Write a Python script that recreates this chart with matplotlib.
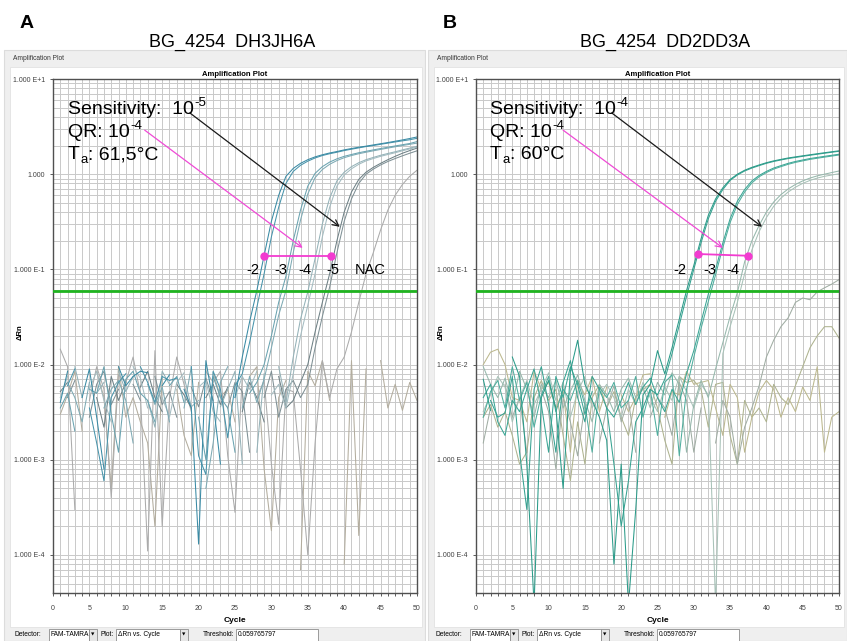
import numpy as np
import matplotlib
matplotlib.use("Agg")
import matplotlib.pyplot as plt
from matplotlib.patches import Rectangle
from matplotlib.ticker import FixedLocator, FixedFormatter, LogLocator, MultipleLocator, NullFormatter

plt.rcParams['font.family'] = ['Liberation Sans', 'DejaVu Sans']

W, H = 847, 641
cycles = np.arange(1, 51)
threshold = 0.059765797
y_ticks = [10, 1, 0.1, 0.01, 0.001, 0.0001]
y_tick_labels = ["1.000 E+1", "1.000", "1.000 E-1", "1.000 E-2", "1.000 E-3", "1.000 E-4"]
x_ticks = [0, 5, 10, 15, 20, 25, 30, 35, 40, 45, 50]

# ---- panel A : BG_4254 DH3JH6A (delta Rn per cycle 1..50, None = negative) ----
a_m2a = [0.004, 0.0085, None, 0.0045, 0.009, 0.0028, 0.0008, None, 0.0095, 0.006,
         0.0075, 0.0085, 0.0082, None, 0.006, 0.0078, None, 0.0055, 0.0035, 0.00013,
         0.011, 0.004, 0.0009, None, 0.0045, 0.012, 0.028, 0.06, 0.14, 0.32,
         0.6, 0.95, 1.15, 1.3, 1.42, 1.52, 1.6, 1.67, 1.73, 1.8,
         1.86, 1.92, 1.97, 2.03, 2.09, 2.15, 2.22, 2.29, 2.37, 2.46]
a_m2b = [None, 0.006, 0.009, None, 0.0035, 0.0015, 0.0006, 0.0045, 0.0065, 0.008,
         None, 0.0095, 0.0065, 0.004, 0.0075, 0.0068, 0.0072, None, 0.0095, 0.0011,
         0.0007, 0.0085, 0.0055, 0.0017, 0.006, 0.008, 0.017, 0.04, 0.09, 0.22,
         0.45, 0.8, 1.07, 1.24, 1.37, 1.48, 1.57, 1.64, 1.7, 1.77,
         1.83, 1.89, 1.95, 2.0, 2.06, 2.12, 2.18, 2.24, 2.3, 2.38]
a_m3a = [0.0035, 0.005, 0.002, None, 0.0055, 0.005, 0.0095, 0.003, 0.0012, 0.007,
         0.0085, 0.005, 0.0042, 0.0025, None, 0.006, 0.0075, 0.004, None, 0.0028,
         0.001, 0.0075, 0.0045, 0.0035, 0.0012, None, 0.005, 0.0065, 0.01, 0.02,
         0.045, 0.085, 0.2, 0.42, 0.75, 1.02, 1.2, 1.34, 1.45, 1.54,
         1.61, 1.68, 1.74, 1.8, 1.86, 1.92, 1.98, 2.04, 2.1, 2.2]
a_m3b = [None, 0.0065, 0.0045, 0.0025, 0.0065, None, 0.0035, 0.0055, 0.0068, 0.0042,
         0.0015, None, 0.0062, 0.0038, 0.0058, 0.0025, None, 0.0035, 0.0095, None,
         0.0005, 0.0015, 0.0065, 0.0095, None, 0.0035, 0.0075, 0.004, 0.007, 0.015,
         0.033, 0.06, 0.15, 0.33, 0.62, 0.92, 1.12, 1.27, 1.39, 1.49,
         1.57, 1.64, 1.7, 1.76, 1.82, 1.88, 1.94, 2.0, 2.06, 2.12]
a_m4a = [0.006, None, 0.0095, 0.0045, None, 0.005, 0.0065, None, 0.0085, 0.0052,
         0.0075, None, 0.0042, 0.0022, 0.0085, 0.0062, None, 0.0075, 0.0036, 0.0042,
         None, None, 0.0036, 0.0055, 0.0085, 0.0009, None, 0.0012, 0.008, None,
         0.0095, 0.004, 0.012, 0.03, 0.058, 0.13, 0.3, 0.56, 0.85, 1.05,
         1.2, 1.32, 1.42, 1.5, 1.58, 1.65, 1.72, 1.8, 1.88, 1.96]
a_m4b = [0.0045, 0.0075, None, None, 0.0055, 0.0085, 0.0042, 0.0025, None, None,
         0.0095, 0.0072, 0.0035, None, 0.0045, 0.0028, 0.0065, 0.0082, None, 0.0058,
         0.0068, 0.0032, 0.0025, None, 0.0045, 0.0075, 0.0055, 0.0085, None, 0.0048,
         0.0062, 0.0035, 0.008, 0.02, 0.042, 0.09, 0.22, 0.45, 0.75, 0.98,
         1.14, 1.27, 1.38, 1.46, 1.54, 1.61, 1.68, 1.76, 1.84, 1.92]
a_m5a = [0.0052, 0.0065, None, 0.0035, None, 0.0045, 0.0022, 0.0075, 0.0042, 0.0065,
         None, 0.0058, 0.0085, 0.0045, 0.0032, None, 0.0062, 0.0048, 0.0035, None,
         0.0045, 0.0062, 0.0038, 0.0058, None, 0.0032, 0.0065, 0.0045, 0.0025, None,
         0.0075, 0.0035, 0.0042, 0.0065, 0.01, 0.022, 0.045, 0.09, 0.2, 0.4,
         0.65, 0.88, 1.05, 1.18, 1.3, 1.42, 1.54, 1.66, 1.77, 1.88]
a_m5b = [None, 0.0045, 0.0068, None, 0.0028, 0.0062, 0.0085, 0.0038, 0.0055, None,
         0.0062, 0.0042, None, 0.0075, 0.0038, 0.0052, 0.0028, None, 0.0058, 0.0036,
         0.0072, 0.0042, None, 0.0035, 0.0065, 0.0052, 0.0012, None, 0.0045, 0.0085,
         0.0028, 0.0055, 0.0068, 0.0045, 0.0062, 0.015, 0.032, 0.065, 0.15, 0.32,
         0.55, 0.8, 1.0, 1.13, 1.25, 1.36, 1.46, 1.56, 1.66, 1.76]
a_nac = [0.0145, 0.0095, 0.0003, None, 0.0042, 0.0095, 0.0055, 0.0004, 0.0078, 0.0065,
         0.012, 0.005, 0.00011, 0.014, 0.0002, 0.0045, 0.012, 0.0062, 0.0032, None,
         0.0085, 0.0065, 0.0085, 0.0011, 0.00028, 0.0075, None, 0.0045, 0.0068, 0.0009,
         0.00021, 0.0055, 0.0052, 0.0008, 0.0001, 0.0015, 0.011, 0.0045, 0.009, 0.012,
         0.022, 0.045, 0.09, 0.15, 0.26, 0.42, 0.6, 0.78, 0.95, 1.1]
a_ntc = [0.003, 0.0048, 0.0085, 0.002, None, 0.0085, 0.0045, 0.0005, 0.0095, 0.0028,
         0.0045, 0.0025, 0.0015, 0.0002, 0.0072, None, 0.0055, 0.0018, 0.0011, 0.0065,
         None, 0.0082, 0.0046, 0.0055, 0.0025, None, 0.0075, 0.0095, 0.0008, 0.00018,
         0.0045, 0.0068, None, 0.00007, 0.0085, 0.006, 0.011, 0.0042, None, 0.00008,
         0.011, 0.00016, 0.009, None, 0.011, 0.0035, 0.0062, 0.0033, 0.0065, 0.0042]

# ---- panel B : BG_4254 DD2DD3A ----
b_m2a = [0.007, 0.0033, None, None, 0.012, 0.0075, 0.0009, 0.00003, 0.0045, 0.0068,
         0.0035, 0.0005, 0.0085, 0.018, 0.0062, 0.0042, 0.0028, 0.0016, 0.00008, 0.0009,
         0.00003, 0.0003, 0.0048, 0.0062, 0.014, 0.008, 0.015, 0.03, 0.06, 0.11,
         0.21, 0.37, 0.55, 0.72, 0.88, 1.0, 1.1, 1.18, 1.25, 1.32,
         1.38, 1.43, 1.48, 1.52, 1.56, 1.6, 1.64, 1.68, 1.72, 1.76]
b_m2b = [None, 0.0042, 0.0028, 0.0031, 0.0075, 0.0012, 0.0003, 0.0055, 0.0095, 0.0038,
         0.0012, 0.0065, 0.011, 0.0045, 0.0025, 0.0075, 0.0055, 0.0035, 0.0009, 0.0002,
         0.0006, 0.0025, 0.0035, 0.0055, 0.0048, 0.007, 0.013, 0.026, 0.052, 0.1,
         0.19, 0.34, 0.52, 0.69, 0.86, 0.98, 1.08, 1.16, 1.23, 1.3,
         1.36, 1.41, 1.46, 1.5, 1.54, 1.58, 1.62, 1.66, 1.7, 1.74]
b_m3a = [0.0045, 0.0062, 0.0025, 0.0018, 0.0042, 0.0032, 0.0055, 0.009, 0.0038, 0.0012,
         0.0075, 0.0045, 0.0095, 0.0062, 0.003, 0.0052, None, 0.0035, 0.0028, 0.0042,
         0.0065, 0.0038, 0.0058, 0.0072, 0.0045, 0.0032, 0.0055, 0.004, 0.008, 0.014,
         0.028, 0.055, 0.1, 0.19, 0.34, 0.52, 0.69, 0.85, 0.97, 1.07,
         1.16, 1.23, 1.3, 1.36, 1.41, 1.46, 1.5, 1.54, 1.58, 1.62]
b_m3b = [0.0028, 0.0052, 0.0068, 0.0035, 0.0095, 0.0042, 0.0065, 0.0022, 0.0048, 0.0075,
         0.0032, 0.0055, 0.0042, 0.0068, 0.0038, 0.0012, 0.0058, 0.0045, 0.0065, 0.0035,
         0.0042, 0.0075, 0.0028, 0.0055, 0.0018, 0.0065, 0.0078, 0.0011, 0.0055, 0.012,
         0.024, 0.046, 0.088, 0.17, 0.31, 0.48, 0.65, 0.81, 0.94, 1.04,
         1.13, 1.2, 1.27, 1.33, 1.38, 1.43, 1.47, 1.51, 1.55, 1.59]
b_m4a = [0.0095, 0.0062, 0.0045, 0.0072, 0.0038, 0.0085, 0.0055, 0.0028, 0.0062, 0.0045,
         0.0068, 0.0035, 0.0052, 0.0078, 0.0042, 0.0025, 0.0062, 0.0048, 0.0032, 0.0055,
         0.0072, 0.0045, 0.0058, 0.0035, 0.0065, 0.0048, 0.0082, 0.0062, 0.0012, 0.0038,
         0.0068, 0.0045, 0.009, 0.017, 0.032, 0.057, 0.12, 0.2, 0.29, 0.4,
         0.51, 0.61, 0.7, 0.78, 0.85, 0.91, 0.96, 1.0, 1.04, 1.08]
b_m4b = [0.0032, 0.0048, 0.0075, 0.0058, 0.0025, 0.0045, 0.0068, 0.0038, 0.0055, 0.0082,
         0.0042, 0.0065, 0.0028, 0.0052, 0.0075, 0.0035, 0.0048, 0.0062, 0.0045, 0.0028,
         0.0055, 0.0038, 0.0065, 0.0045, 0.0032, 0.0058, 0.0042, 0.0075, 0.0052, 0.0035,
         0.0062, 0.0048, 0.00003, 0.013, 0.025, 0.045, 0.09, 0.16, 0.25, 0.35,
         0.46, 0.56, 0.65, 0.73, 0.8, 0.86, 0.91, 0.95, 0.98, 1.01]
b_late = [0.0015, 0.0035, None, 0.0062, 0.0028, 0.0045, 0.0012, None, 0.0055, 0.0032,
          0.0008, 0.0045, 0.0025, 0.0011, 0.0038, None, 0.0015, 0.0035, 0.006, 0.0025,
          0.0042, 0.0012, None, 0.0028, 0.0045, 0.0035, 0.0018, 0.0065, 0.0042, 0.0012,
          0.0035, None, 0.0015, 0.0042, 0.0028, 0.0009, 0.0022, 0.0035, 0.006, 0.012,
          0.018, 0.025, 0.031, 0.045, 0.05, 0.048, 0.058, 0.064, 0.07, 0.078]
b_ntc1 = [0.01, 0.0135, 0.0145, 0.01, 0.0045, 0.0042, 0.0025, 0.0085, 0.0055, 0.0065,
          0.0035, 0.0052, 0.0012, 0.0068, 0.0048, 0.0075, 0.0032, 0.0058, None, 0.0048,
          0.0032, 0.0045, 0.0078, 0.008, None, 0.0028, 0.0052, 0.0048, 0.0085, 0.0062,
          0.0065, 0.0068, 0.0035, 0.0018, 0.0062, 0.0045, 0.0012, 0.0028, 0.0052, 0.0068,
          0.0055, 0.0028, 0.0045, 0.0032, 0.0058, 0.0042, 0.0095, 0.0012, 0.0028, 0.0032]
b_ntc2 = [0.0028, 0.0038, 0.0022, 0.0032, 0.0018, 0.0009, 0.0012, 0.0045, 0.0068, 0.0042,
          0.0055, 0.0018, 0.0006, 0.0025, 0.0009, 0.0045, 0.0062, 0.0035, 0.0052, 0.0028,
          0.0018, 0.0045, 0.0055, 0.0062, 0.0035, 0.0016, 0.0009, 0.0075, 0.0065, 0.0068,
          0.0055, 0.0022, 0.0062, 0.0065, 0.0018, 0.0009, 0.0042, 0.0028, 0.0035, 0.0025,
          0.0062, 0.0045, 0.0038, 0.006, 0.0095, 0.015, 0.02, 0.025, 0.025, 0.019]

panel_a = [(a_ntc, '#b3ad9e'), (a_nac, '#ababab'), (a_m5b, '#7f9095'), (a_m5a, '#6e8085'),
           (a_m4b, '#a4bcc1'), (a_m4a, '#94b2b8'), (a_m3b, '#7eaab4'), (a_m3a, '#6aa3b0'),
           (a_m2b, '#4894ab'), (a_m2a, '#398aa4')]
panel_b = [(b_ntc2, '#aeb38f'), (b_ntc1, '#bcb88e'), (b_late, '#a0ada3'),
           (b_m4b, '#a8c2b8'), (b_m4a, '#96b8ac'), (b_m3b, '#4fae9e'), (b_m3a, '#3aa695'),
           (b_m2b, '#36a291'), (b_m2a, '#2a9b89')]


def fx(x):
    return x / W


def fy(y):
    return 1 - y / H


fig = plt.figure(figsize=(W / 100, H / 100), dpi=100)
fig.patch.set_facecolor('white')
renderer = fig.canvas.get_renderer()


def window(x0, x1):
    # software window frame behind each plot
    fig.patches.append(Rectangle((fx(x0), fy(641)), fx(x1 - x0), (641 - 50) / H,
                                 transform=fig.transFigure, facecolor='#efefef',
                                 edgecolor='#dcdcdc', lw=0.8, zorder=-2))
    fig.patches.append(Rectangle((fx(x0 + 6), fy(627)), fx(x1 - x0 - 9), (627 - 67) / H,
                                 transform=fig.transFigure, facecolor='white',
                                 edgecolor='#e2e2e2', lw=0.6, zorder=-1))
    fig.text(fx(x0 + 9), fy(59), 'Amplification Plot', fontsize=4.8, va='center', color='#333333')


def controls(x0):
    y = 635
    fs = 4.8
    fig.text(fx(x0 + 10), fy(y), 'Detector:', fontsize=fs, va='center')
    boxes = [(x0 + 45, 40, 'FAM-TAMRA'), (x0 + 112, 64, '\u0394Rn vs. Cycle'), (x0 + 232, 82, '0.059765797')]
    for i, (bx, bw, label) in enumerate(boxes):
        fig.patches.append(Rectangle((fx(bx), fy(y + 6)), fx(bw), 12 / H, transform=fig.transFigure,
                                     facecolor='white', edgecolor='#8c8c8c', lw=0.6))
        fig.text(fx(bx + 1.5), fy(y), label, fontsize=fs, va='center')
        if i < 2:
            fig.patches.append(Rectangle((fx(bx + bw), fy(y + 6)), fx(8), 12 / H, transform=fig.transFigure,
                                         facecolor='#e6e6e6', edgecolor='#8c8c8c', lw=0.6))
            fig.text(fx(bx + bw + 4), fy(y), '\u25bc', fontsize=3.2, ha='center', va='center',
                     family='DejaVu Sans')
    fig.text(fx(x0 + 110), fy(y), 'Plot:', fontsize=fs, va='center', ha='right')
    fig.text(fx(x0 + 230), fy(y), 'Threshold:', fontsize=fs, va='center', ha='right')


def draw_panel(ax, series, x0):
    for vals, col in series:
        v = np.array(vals, dtype=float)
        ax.plot(cycles, v, color=col, lw=0.75)
    ax.axhline(threshold, color='#1fb31f', lw=2.0, zorder=5)
    ax.set_yscale('log')
    ax.set_xlim(0, 50)
    ax.set_ylim(10 ** -4.4, 10)
    ax.yaxis.set_major_locator(FixedLocator(y_ticks))
    ax.yaxis.set_major_formatter(FixedFormatter(y_tick_labels))
    ax.yaxis.set_minor_locator(LogLocator(base=10, subs=np.arange(2, 10), numticks=20))
    ax.yaxis.set_minor_formatter(NullFormatter())
    ax.xaxis.set_major_locator(FixedLocator(x_ticks))
    ax.xaxis.set_minor_locator(MultipleLocator(1))
    ax.grid(True, which='both', color='#c9c9c9', lw=0.7)
    ax.set_axisbelow(True)
    ax.tick_params(which='both', labelsize=5, colors='#404040', length=2.5, width=0.6)
    ax.tick_params(axis='y', which='minor', length=0)
    ax.tick_params(axis='x', pad=6)
    for s in ax.spines.values():
        s.set_color('#505050')
        s.set_linewidth(1.0)
    ax.set_title('Amplification Plot', fontsize=5.5, fontweight='bold', pad=2)
    ax.set_xlabel('Cycle', fontsize=6, fontweight='bold', labelpad=4)
    fig.text(fx(x0 + 16), fy(332), '\u0394Rn', fontsize=5.5, fontweight='bold', rotation=90,
             ha='center', va='center')


def rich(x, y, pieces):
    # pieces: (text, fontsize, vertical shift in px); laid out left to right
    for txt, size, dy in pieces:
        t = fig.text(fx(x), fy(y - dy), txt, fontsize=size, va='baseline')
        x = t.get_window_extent(renderer=renderer).x1 + 0.5


window(4, 425)
window(428, 847)
controls(4)
controls(425)

axA = fig.add_axes([fx(53), fy(593), (417 - 53) / W, (593 - 79) / H])
axB = fig.add_axes([fx(476), fy(593), (839 - 476) / W, (593 - 79) / H])
draw_panel(axA, panel_a, 4)
draw_panel(axB, panel_b, 425)

fig.text(fx(20), fy(23), 'A', fontsize=14, fontweight='bold', va='center')
fig.text(fx(443), fy(23), 'B', fontsize=14, fontweight='bold', va='center')
fig.text(fx(232), fy(42), 'BG_4254  DH3JH6A', fontsize=13, ha='center', va='center')
fig.text(fx(665), fy(42), 'BG_4254  DD2DD3A', fontsize=13, ha='center', va='center')


def notes(ax, x0, sens, ta, pink_start, pink_end, black_start, black_end, dots, labels):
    fs, fss = 14, 9.5
    rich(x0, 114, [('Sensitivity:  10', fs, 0), (sens, fss, 8)])
    rich(x0, 137, [('QR: 10', fs, 0), ('-4', fss, 8)])
    rich(x0, 159, [('T', fs, 0), ('a', fss, -4), (': ' + ta, fs, 0)])
    ax.annotate('', xy=black_end, xytext=black_start,
                arrowprops=dict(arrowstyle='->', color='#1a1a1a', lw=0.9, shrinkA=0, shrinkB=0,
                                mutation_scale=11), zorder=7)
    ax.annotate('', xy=pink_end, xytext=pink_start,
                arrowprops=dict(arrowstyle='->', color='#f04ad6', lw=0.9, shrinkA=0, shrinkB=0,
                                mutation_scale=11), zorder=7)
    ax.plot([d[0] for d in dots], [d[1] for d in dots], color='#f23bd0', lw=1.3,
            marker='o', ms=5, zorder=8)
    for lx, txt in labels:
        ax.text(lx, 0.098, txt, fontsize=10.5, ha='center', va='center', zorder=9)


notes(axA, 68, '-5', '61,5\u00b0C', (12.6, 2.9), (34.3, 0.168), (18.8, 4.4), (39.4, 0.28),
      [(29.0, 0.138), (38.2, 0.138)],
      [(27.5, '-2'), (31.3, '-3'), (34.6, '-4'), (38.5, '-5'), (43.6, 'NAC')])
notes(axB, 490, '-4', '60\u00b0C', (12.0, 2.9), (34.0, 0.168), (18.7, 4.4), (39.4, 0.28),
      [(30.6, 0.145), (37.5, 0.139)],
      [(28.1, '-2'), (32.2, '-3'), (35.4, '-4')])

fig.savefig('out.png', dpi=100)
